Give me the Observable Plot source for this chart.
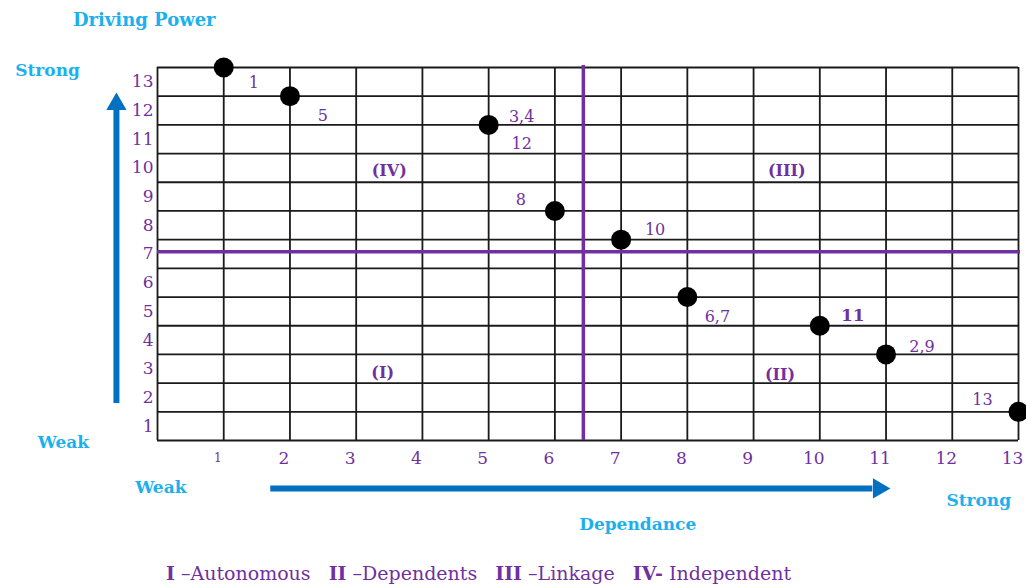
<!DOCTYPE html>
<html>
<head>
<meta charset="utf-8">
<script src="https://cdn.jsdelivr.net/npm/d3@7"></script>
<script src="https://cdn.jsdelivr.net/npm/@observablehq/plot@0.6"></script>
<style>
  html, body { margin: 0; padding: 0; background: #fff; overflow: hidden; }
  #legend { font-family: "DejaVu Serif", serif; font-size: 19px; line-height: 19px; color: #7030a0; padding-left: 166px; padding-top: 8px; height: 21px; white-space: pre; }
  #legend b { font-weight: bold; }
</style>
</head>
<body>
<div id="chart"></div>
<div id="legend"><b>I</b> –Autonomous   <b>II</b> –Dependents   <b>III</b> –Linkage   <b>IV-</b> Independent</div>
<script>
// ---- data ----
const dependence = [1, 2, 5, 6, 7, 8, 10, 11, 13];
const driving    = [13, 12, 11, 8, 7, 5, 4, 3, 1];
const varLabels  = ["1", "5", "3,4\n12", "8", "10", "6,7", "11", "2,9", "13"];
const xTicks = [1,2,3,4,5,6,7,8,9,10,11,12,13];
const yTicks = [1,2,3,4,5,6,7,8,9,10,11,12,13];
const gridLines = [0,1,2,3,4,5,6,7,8,9,10,11,12,13];
const dividerX = 6.43;   // dependence split (as drawn)
const dividerY = 6.58;   // driving power split (as drawn)
const quadrantNames = ["(IV)", "(III)", "(I)", "(II)"];
const quadrantX = [3.5, 9.5, 3.4, 9.4];
const quadrantY = [9.4, 9.4, 2.35, 2.3];

const points = dependence.map((d, i) => ({dep: d, drv: driving[i], label: varLabels[i]}));

const purple = "#7030a0";
const lightBlue = "#1cb0ec";
const arrowBlue = "#0070c0";
const font = "DejaVu Serif";

// per-label offsets (style only)
const labelStyle = {
  "1": {dx: 30, dy: 12},
  "5": {dx: 33, dy: 16},
  "3,4\n12": {dx: 33, dy: 2},
  "8": {dx: -34, dy: -15},
  "10": {dx: 34, dy: -13},
  "6,7": {dx: 30, dy: 16},
  "11": {dx: 33, dy: -14, bold: true},
  "2,9": {dx: 36, dy: -11},
  "13": {dx: -36, dy: -16}
};

const labelMarks = points.map(p => {
  const s = labelStyle[p.label];
  return Plot.text([p], {
    x: "dep", y: "drv", text: "label",
    dx: s.dx, dy: s.dy, fill: purple, fontSize: s.bold ? 17 : 16,
    lineHeight: 1.7,
    fontWeight: s.bold ? "bold" : "normal"
  });
});

const quadrants = quadrantNames.map((n, i) => ({name: n, x: quadrantX[i], y: quadrantY[i]}));

// decorative annotations in data space
const blueTexts = [
  {t: "Driving Power", x: -0.2, y: 14.64, s: 18},
  {t: "Strong", x: -1.66, y: 12.9, s: 17},
  {t: "Weak", x: -1.42, y: -0.07, s: 17},
  {t: "Weak", x: 0.05, y: -1.64, s: 17},
  {t: "Strong", x: 12.4, y: -2.09, s: 17},
  {t: "Dependance", x: 7.25, y: -2.93, s: 17}
];

const chart = Plot.plot({
  width: 1026,
  height: 556,
  marginLeft: 157,
  marginRight: 8,
  marginTop: 67,
  marginBottom: 116,
  x: {domain: [0, 13], axis: null},
  y: {domain: [0, 13], axis: null},
  style: {fontFamily: font, background: "white", overflow: "visible"},
  marks: [
    Plot.ruleX(gridLines, {y1: 0, y2: 13, stroke: "#1a1a1a", strokeWidth: 1.8}),
    Plot.ruleY(gridLines, {x1: 0, x2: 13, stroke: "#1a1a1a", strokeWidth: 1.8}),
    Plot.ruleX([dividerX], {y1: 0, y2: 13.07, stroke: purple, strokeWidth: 3.5}),
    Plot.ruleY([dividerY], {x1: 0, x2: 13.03, stroke: purple, strokeWidth: 3.5}),
    // tick labels
    Plot.text(xTicks, {x: d => d, y: 0, text: d => String(d), dx: -6, dy: 18, fill: purple, fontSize: d => d === 1 ? 12 : 17}),
    Plot.text(yTicks, {x: 0, y: d => d - 0.5, text: d => String(d), textAnchor: "end", dx: -4, fill: purple, fontSize: 17}),
    // points
    Plot.dot(points, {x: "dep", y: "drv", r: 10, fill: "black"}),
    ...labelMarks,
    // quadrant labels
    Plot.text(quadrants, {x: "x", y: "y", text: "name", fill: purple, fontSize: 16, fontWeight: "bold"}),
    // arrows
    Plot.ruleX([-0.62], {y1: 1.29, y2: 11.6, stroke: arrowBlue, strokeWidth: 6}),
    Plot.dot([{x: -0.62, y: 11.72}], {x: "x", y: "y", symbol: "triangle", r: 7.5, fill: arrowBlue, stroke: "none"}),
    Plot.ruleY([-1.67], {x1: 1.71, x2: 10.8, stroke: arrowBlue, strokeWidth: 6}),
    Plot.dot([{x: 10.89, y: -1.67}], {x: "x", y: "y", symbol: "triangle", r: 7.5, rotate: 90, fill: arrowBlue, stroke: "none"}),
    // blue annotation texts
    Plot.text(blueTexts, {x: "x", y: "y", text: "t", fill: lightBlue, fontSize: "s", fontWeight: "bold"})
  ]
});
document.getElementById("chart").appendChild(chart);
</script>
</body>
</html>
